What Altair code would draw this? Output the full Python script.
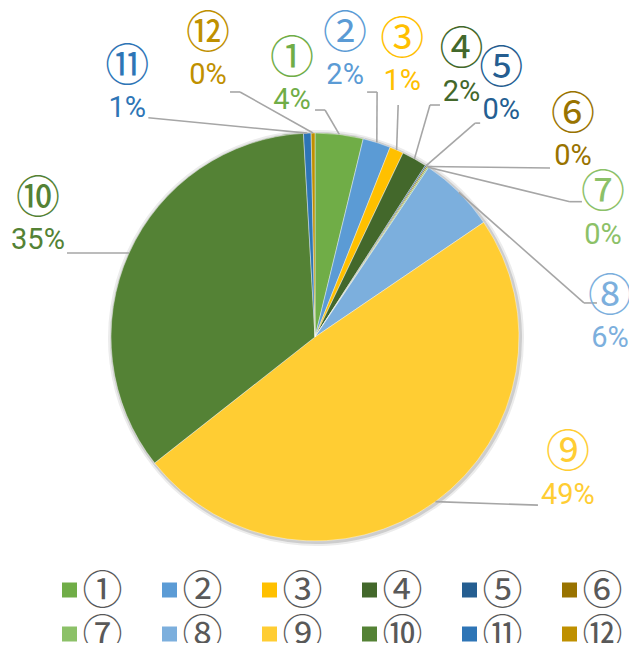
import altair as alt
import pandas as pd

# ---- data ----
names = ["①", "②", "③", "④", "⑤", "⑥", "⑦", "⑧", "⑨", "⑩", "⑪", "⑫"]
values = [3.8, 2.2, 1.1, 2.0, 0.1, 0.1, 0.1, 6.1, 48.9, 34.7, 0.6, 0.3]
colors = ["#70ad47", "#5b9bd5", "#ffc000", "#43682b", "#255e91", "#997300",
          "#8cc168", "#7cafdd", "#ffcd33", "#548235", "#2e75b6", "#bf9000"]

# ---- label layout (Excel's manually placed data labels) ----
label_nudge_deg = [-11.9, -11.6, -6.2, -0.5, 3.8, 18.5, 32.9, 41.1, -25.7, -1.05, -34.6, -20.1]
label_radius = [260.5, 286, 291.8, 305.4, 311.2, 328.3, 313.8, 295.7, 286.8, 301.5, 313.6, 303.5]
leader_dx = [23, 22, -4, -21.5, -21, -23, -21, -13, -30, 29, 21, 22]
leader_dy = [32.5, 39.5, 46.5, 36, 35.5, 34, -10.5, -13, 33, 35, 32, 39]
leader_stub = [10, 10, 0, -10, -5, 0, -12, -13, 0, 0, 0, 10]

CX, CY, R = 307, 329, 204
LEGEND_COLS = 6

df = pd.DataFrame({
    "name": names,
    "value": values,
    "order": list(range(len(names))),
    "nudge": label_nudge_deg,
    "lr": label_radius,
    "ldx": leader_dx,
    "ldy": leader_dy,
    "stub": leader_stub,
})

color_scale = alt.Scale(domain=names, range=colors)

base = alt.Chart(df).transform_window(
    cum="sum(value)", sort=[alt.SortField("order")], frame=[None, 0]
).transform_calculate(
    mid="(datum.cum - datum.value / 2) * 3.6 * PI / 180",
    la="datum.mid + datum.nudge * PI / 180",
    lx=f"{CX} + datum.lr * sin(datum.la)",
    ly=f"{CY} - datum.lr * cos(datum.la)",
    sx=f"{CX} + {R} * sin(datum.mid)",
    sy=f"{CY} - {R} * cos(datum.mid)",
    ex="datum.lx + datum.ldx",
    ey="datum.ly + datum.ldy",
    bx="datum.ex + datum.stub",
    pct="datum.value / 100",
)

shadow_outer = alt.Chart(df).mark_arc(outerRadius=R + 4, color="#ececec").encode(
    theta=alt.Theta("value:Q", stack=True),
    order=alt.Order("order:Q"),
    x=alt.value(CX + 1), y=alt.value(CY + 1),
)
shadow_inner = alt.Chart(df).mark_arc(outerRadius=R + 2, color="#cdcdcd").encode(
    theta=alt.Theta("value:Q", stack=True),
    order=alt.Order("order:Q"),
    x=alt.value(CX + 1), y=alt.value(CY + 1),
)

pie = alt.Chart(df).mark_arc(
    outerRadius=R, stroke="#ffffff", strokeWidth=0.8, strokeOpacity=0.5
).encode(
    theta=alt.Theta("value:Q", stack=True),
    order=alt.Order("order:Q"),
    color=alt.Color("name:N", scale=color_scale, sort=names, legend=None),
    x=alt.value(CX), y=alt.value(CY),
)

lead1 = base.mark_rule(color="#a6a6a6", strokeWidth=1.6).encode(
    x=alt.X("sx:Q", scale=None), y=alt.Y("sy:Q", scale=None),
    x2="bx:Q", y2="ey:Q",
)
lead2 = base.mark_rule(color="#a6a6a6", strokeWidth=1.6).encode(
    x=alt.X("bx:Q", scale=None), y=alt.Y("ey:Q", scale=None),
    x2="ex:Q", y2="ey:Q",
)

circ = base.mark_text(
    font="Noto Sans CJK JP", fontSize=44, dy=-18, baseline="middle", align="center"
).encode(
    x=alt.X("lx:Q", scale=None), y=alt.Y("ly:Q", scale=None),
    text="name:N",
    color=alt.Color("name:N", scale=color_scale, legend=None),
)
pct = base.mark_text(
    font="Roboto", fontSize=29, dy=22.5, baseline="middle", align="center"
).encode(
    x=alt.X("lx:Q", scale=None), y=alt.Y("ly:Q", scale=None),
    text=alt.Text("pct:Q", format=".0%"),
    color=alt.Color("name:N", scale=color_scale, legend=None),
)

# ---- legend: 2 rows x 6 columns grid below the pie ----
leg_base = alt.Chart(df).transform_calculate(
    col=f"datum.order % {LEGEND_COLS}",
    row=f"floor(datum.order / {LEGEND_COLS})",
)
leg_x = alt.X("col:Q", scale=alt.Scale(domain=[0, 5], range=[61.5, 561.5], nice=False, zero=False), axis=None)
leg_y = alt.Y("row:Q", scale=alt.Scale(domain=[0, 1], range=[582, 626], nice=False, zero=False), axis=None)

leg_sym = leg_base.mark_square(size=225, opacity=1, strokeWidth=0).encode(
    x=leg_x, y=leg_y,
    color=alt.Color("name:N", scale=color_scale, legend=None),
)
leg_txt = leg_base.mark_text(
    font="Noto Sans CJK JP", fontSize=40, color="#595959",
    align="center", baseline="middle", dx=33, dy=1.5,
).encode(
    x=leg_x, y=leg_y, text="name:N",
)

chart = alt.layer(
    shadow_outer, shadow_inner, pie, lead1, lead2, circ, pct, leg_sym, leg_txt
).resolve_scale(x="independent", y="independent").properties(
    width=621, height=635, autosize="none", padding=0,
).configure_view(strokeWidth=0)

chart.save("out.html", embed_options={"renderer": "svg", "actions": False})
